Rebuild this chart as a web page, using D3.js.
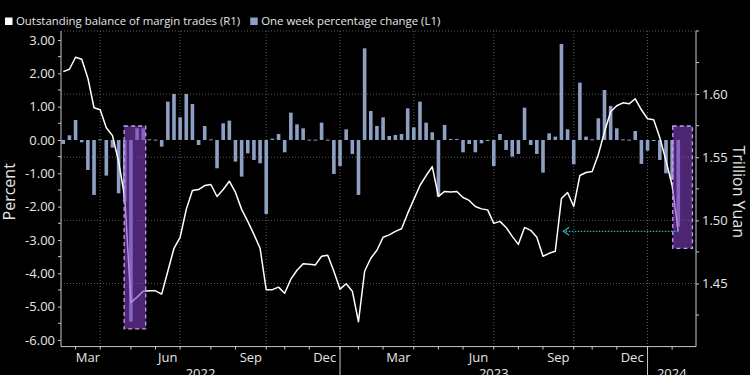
<!DOCTYPE html>
<html>
<head>
<meta charset="utf-8">
<script src="https://cdn.jsdelivr.net/npm/d3@7"></script>
<style>
  body { margin: 0; background: #000; }
  svg { display: block; font-family: 'Open Sans', sans-serif; }
</style>
</head>
<body>
<svg id="chart" width="750" height="375"></svg>
<script>
// weekly (Friday) observations, the market-holiday weeks have no print
const holidayWeeks = ['2022-10-07', '2023-01-27', '2023-10-06']

// outstanding balance of margin trades, trillion yuan (R1)
const balance = [
  1.6178, 1.6197, 1.6292, 1.6276, 1.6126, 1.5892, 1.5876, 1.5734, 1.5671, 1.5466,
  1.5181, 1.4350, 1.4392, 1.4439, 1.4442, 1.4442, 1.4416, 1.4597, 1.4779, 1.4866,
  1.5087, 1.5237, 1.5244, 1.5276, 1.5284, 1.5189, 1.5244, 1.5310, 1.5221, 1.5087,
  1.4992, 1.4889, 1.4779, 1.4450, 1.4451, 1.4471, 1.4423, 1.4534, 1.4605, 1.4656,
  1.4652, 1.4647, 1.4716, 1.4723, 1.4597, 1.4455, 1.4498, 1.4439, 1.4197, 1.4597,
  1.4700, 1.4763, 1.4866, 1.4885, 1.4913, 1.4933, 1.5055, 1.5166, 1.5276, 1.5355,
  1.5426, 1.5189, 1.5229, 1.5225, 1.5229, 1.5181, 1.5158, 1.5110, 1.5091, 1.5083,
  1.4976, 1.4992, 1.4944, 1.4873, 1.4810, 1.4944, 1.4921, 1.4866, 1.4716, 1.4739,
  1.4755, 1.5173, 1.5221, 1.5110, 1.5355, 1.5379, 1.5387, 1.5521, 1.5702, 1.5860,
  1.5908, 1.5931, 1.5923, 1.5963, 1.5876, 1.5805, 1.5797, 1.5655, 1.5473, 1.5276,
  1.4913
]

// one week percentage change (L1)
const weeklyChange = [
  -0.12, 0.14, 0.6, -0.07, -0.9, -1.65, 0.02, -1.07, -0.23, -1.6,
  -1.85, -5.45, 0.35, 0.35, 0.02, 0.01, -0.2, 1.15, 1.38, 0.68,
  1.38, 1.08, -0.15, 0.42, 0.02, -0.85, 0.5, 0.58, -0.65, -1.1,
  -0.4, -0.6, -0.7, -2.22, 0.04, 0.18, -0.37, 0.82, 0.47, 0.35,
  0.01, 0.01, 0.52, 0.01, -1.02, -0.78, 0.32, -0.42, -1.65, 2.75,
  0.87, 0.42, 0.68, 0.12, 0.15, 0.18, 0.95, 0.38, 1.15, 0.52,
  0.23, -1.7, 0.45, 0.03, 0.03, -0.37, -0.12, -0.37, -0.1, -0.02,
  -0.78, 0.18, -0.3, -0.5, -0.42, 0.97, -0.15, -0.42, -0.98, 0.2,
  0.1, 2.88, 0.32, -0.73, 1.72, 0.1, 0.02, 0.65, 1.5, 1.02,
  0.35, 0.02, 0.01, 0.27, -0.72, -0.32, -0.02, -0.6, -1.0, -1.2,
  -2.6
]

const leftTicks = [3, 2, 1, 0, -1, -2, -3, -4, -5, -6]
const leftMinor = [2.5, 1.5, 0.5, -0.5, -1.5, -2.5, -3.5, -4.5, -5.5]
const rightTicks = [1.45, 1.50, 1.55, 1.60]
const rightMinor = [1.425, 1.475, 1.525, 1.575, 1.625, 1.65]
const gridValues = [1.45, 1.50, 1.55, 1.60, 1.65]
const monthLabels = ['Mar', 'Jun', 'Sep', 'Dec']

// highlighted weeks (index span, left-axis span) and the look-back arrow
const highlights = [
  { from: 9.9, to: 13.4, top: 0.42, bottom: -5.67 },
  { from: 99.1, to: 102.3, top: 0.42, bottom: -3.25 }
]
const arrowTo = 81.3

const barColor = '#8d9fc2'
const fmtDay = d3.timeFormat('%Y-%m-%d')
const dates = d3.timeFriday.range(new Date(2022, 1, 18), new Date(2024, 1, 10))
  .filter(d => !holidayWeeks.includes(fmtDay(d)))

const svg = d3.select('#chart')
const pL = 61, pR = 696, pT = 31, pB = 346.6

const x = d3.scaleLinear().domain([-0.37, 102.88]).range([pL, pR])
const yL = d3.scaleLinear().domain([-6.2, 3.27]).range([pB, pT])
const yR = d3.scaleLinear().domain([1.40, 1.65]).range([pB, pT])

// month boundaries = first weekly print of each month
const monthStarts = dates.map((d, i) => i).filter(i => i > 0 && dates[i].getMonth() !== dates[i - 1].getMonth())

// grid
svg.append('g').selectAll('line').data(gridValues).enter().append('line')
  .attr('x1', pL).attr('x2', pR)
  .attr('y1', d => yR(d)).attr('y2', d => yR(d))
  .attr('stroke', '#5a5a5a').attr('stroke-dasharray', '1,2')

svg.append('g').selectAll('line').data(monthStarts.filter(i => dates[i].getMonth() % 3 === 0)).enter().append('line')
  .attr('x1', d => x(d)).attr('x2', d => x(d))
  .attr('y1', pT).attr('y2', pB)
  .attr('stroke', '#5a5a5a').attr('stroke-dasharray', '1,2')

// bars
const bw = 3.6
svg.append('g').selectAll('rect').data(weeklyChange).enter().append('rect')
  .attr('x', (d, i) => x(i) - bw / 2)
  .attr('y', d => yL(Math.max(0, d)))
  .attr('width', bw)
  .attr('height', d => Math.max(1, Math.abs(yL(d) - yL(0))))
  .attr('fill', barColor)

// balance line
const line = d3.line().x((d, i) => x(i)).y(d => yR(d))
svg.append('path').datum(balance)
  .attr('d', line)
  .attr('fill', 'none')
  .attr('stroke', '#fff')
  .attr('stroke-width', 1.5)
  .attr('stroke-linejoin', 'round')

// highlight boxes
svg.append('g').selectAll('rect').data(highlights).enter().append('rect')
  .attr('x', d => x(d.from))
  .attr('y', d => yL(d.top))
  .attr('width', d => x(d.to) - x(d.from))
  .attr('height', d => yL(d.bottom) - yL(d.top))
  .attr('fill', 'rgba(128, 64, 192, 0.6)')
  .attr('stroke', '#c39ef0')
  .attr('stroke-width', 1.3)
  .attr('stroke-dasharray', '4,3')

// arrow from latest reading back to the same level
const last = balance.length - 1
const ay = yR(balance[last])
svg.append('line')
  .attr('x1', x(last)).attr('x2', x(arrowTo))
  .attr('y1', ay).attr('y2', ay)
  .attr('stroke', '#2fb3ad').attr('stroke-width', 1.3).attr('stroke-dasharray', '1.5,1.5')
svg.append('path')
  .attr('d', `M${x(arrowTo) + 6},${ay - 4}L${x(arrowTo)},${ay}L${x(arrowTo) + 6},${ay + 4}`)
  .attr('fill', 'none').attr('stroke', '#2fb3ad').attr('stroke-width', 1.2)

// left axis
const gl = svg.append('g').attr('transform', `translate(${pL},0)`)
  .call(d3.axisLeft(yL).tickValues(leftTicks).tickFormat(d => d.toFixed(2)).tickSize(3).tickPadding(3))
gl.append('g').selectAll('line').data(leftMinor).enter().append('line')
  .attr('x1', -3).attr('x2', 0).attr('y1', d => yL(d)).attr('y2', d => yL(d))
gl.select('.domain').attr('d', `M0,${pT}V${pB}`)

// right axis
const gr = svg.append('g').attr('transform', `translate(${pR},0)`)
  .call(d3.axisRight(yR).tickValues(rightTicks).tickFormat(d => d.toFixed(2)).tickSize(3).tickPadding(3))
gr.append('g').selectAll('line').data(rightMinor).enter().append('line')
  .attr('x1', 0).attr('x2', 3).attr('y1', d => yR(d)).attr('y2', d => yR(d))
gr.select('.domain').attr('d', `M0,${pT}V${pB}`)

for (const g of [gl, gr]) {
  g.selectAll('line').attr('stroke', '#c8c8c8')
  g.select('.domain').attr('stroke', '#c8c8c8').attr('fill', 'none')
  g.selectAll('text').attr('fill', '#e6e6e6').style('font-size', '13px').style('font-family', "'Open Sans', sans-serif")
}

// bottom axis
const gb = svg.append('g')
gb.append('line').attr('x1', pL).attr('x2', pR).attr('y1', pB).attr('y2', pB).attr('stroke', '#c8c8c8')
gb.selectAll('.mt').data(monthStarts).enter().append('line')
  .attr('x1', d => x(d)).attr('x2', d => x(d))
  .attr('y1', pB).attr('y2', pB + 3)
  .attr('stroke', '#c8c8c8')

const fmtMonth = d3.timeFormat('%b')
monthStarts.forEach((i, k) => {
  const name = fmtMonth(dates[i])
  if (!monthLabels.includes(name) || k + 1 >= monthStarts.length) return
  gb.append('text')
    .attr('x', (x(i) + x(monthStarts[k + 1])) / 2)
    .attr('y', pB + 15.5)
    .attr('text-anchor', 'middle')
    .attr('fill', '#e6e6e6')
    .style('font-size', '13px')
    .text(name)
})

// year labels sit at the very bottom edge, partly cut off as in the original
const yearStarts = monthStarts.filter(i => dates[i].getMonth() === 0)
gb.selectAll('.ys').data(yearStarts).enter().append('line')
  .attr('x1', d => x(d)).attr('x2', d => x(d))
  .attr('y1', pB).attr('y2', 375)
  .attr('stroke', '#c8c8c8')
const edges = [pL, ...yearStarts.map(i => x(i)), pR]
const years = [dates[0].getFullYear(), ...yearStarts.map(i => dates[i].getFullYear())]
years.forEach((yr, k) => {
  gb.append('text')
    .attr('x', (edges[k] + edges[k + 1]) / 2)
    .attr('y', pB + 31.5)
    .attr('text-anchor', 'middle')
    .attr('fill', '#e6e6e6')
    .style('font-size', '13px')
    .text(yr)
})

// axis titles
svg.append('text')
  .attr('transform', `translate(15,${(pT + pB) / 2 + 3}) rotate(-90)`)
  .attr('text-anchor', 'middle')
  .attr('fill', '#e6e6e6')
  .style('font-size', '16px')
  .text('Percent')
svg.append('text')
  .attr('transform', `translate(733,${(pT + pB) / 2 + 3}) rotate(90)`)
  .attr('text-anchor', 'middle')
  .attr('fill', '#e6e6e6')
  .style('font-size', '16px')
  .text('Trillion Yuan')

// legend
const legend = [
  { label: 'Outstanding balance of margin trades (R1)', color: '#fff' },
  { label: 'One week percentage change (L1)', color: barColor }
]
let lx = 5
legend.forEach(d => {
  svg.append('rect').attr('x', lx).attr('y', 17.5).attr('width', 7.5).attr('height', 7.5).attr('fill', d.color)
  const t = svg.append('text').attr('x', lx + 11).attr('y', 25)
    .attr('fill', '#e6e6e6').style('font-size', '11.4px').text(d.label)
  lx += 11 + t.node().getComputedTextLength() + 10
})
</script>
</body>
</html>
